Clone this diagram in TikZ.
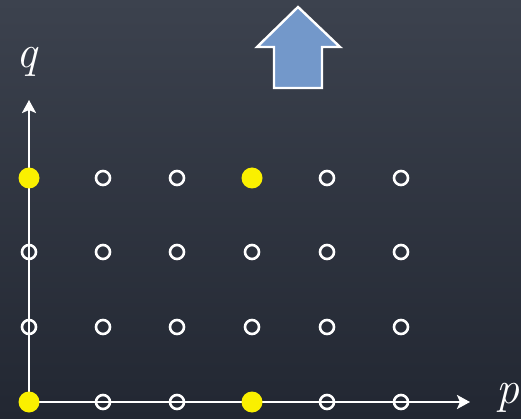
\documentclass[tikz,border=0pt]{standalone}
\usetikzlibrary{arrows.meta}
\definecolor{boardtop}{RGB}{60,66,78}
\definecolor{boardbot}{RGB}{34,39,50}
\definecolor{dotyellow}{RGB}{250,240,0}
\definecolor{arrowblue}{RGB}{115,152,202}
\tikzset{
  latt/.style={circle,draw=white,line width=2.6pt,minimum size=14pt,inner sep=0pt},
  ydot/.style={circle,fill=dotyellow,minimum size=21pt,inner sep=0pt},
  axisline/.style={draw=white,line width=2.8pt,-{Stealth[length=13pt,width=14pt,inset=3pt]}},
  axlabel/.style={text=white,font=\fontsize{46}{46}\selectfont\itshape,inner sep=0pt}
}
\begin{document}
\begin{tikzpicture}[x=1pt,y=-1pt]
\shade[top color=boardtop,bottom color=boardbot] (0,0) rectangle (521,419);
\useasboundingbox (0,0) rectangle (521,419);
% axes
\coordinate (O) at (29,402);
\coordinate (qtip) at (29,100);
\coordinate (ptip) at (470,402);
\draw[axisline] (O) -- (qtip);
\draw[axisline] (O) -- (ptip);
\node[axlabel,anchor=base] (qlab) at (27,68) {q};
\node[axlabel,anchor=base east] (plab) at (520,403) {p};
% lattice
\foreach \i/\x in {0/29,1/103,2/177,3/252,4/327,5/401}{
  \foreach \j/\y in {0/402,1/327,2/252,3/178}{
    \node[latt] (n\i\j) at (\x,\y) {};
  }
}
\node[ydot] (y00) at (29,402) {};
\node[ydot] (y03) at (29,178) {};
\node[ydot] (y30) at (252,402) {};
\node[ydot] (y33) at (252,178) {};
% up arrow
\draw[white,line width=2.4pt,line join=miter,fill=arrowblue]
  (298,7) -- (340,47) -- (322,47) -- (322,88) -- (274,88) -- (274,47) -- (257,47) -- cycle;
\end{tikzpicture}
\end{document}
